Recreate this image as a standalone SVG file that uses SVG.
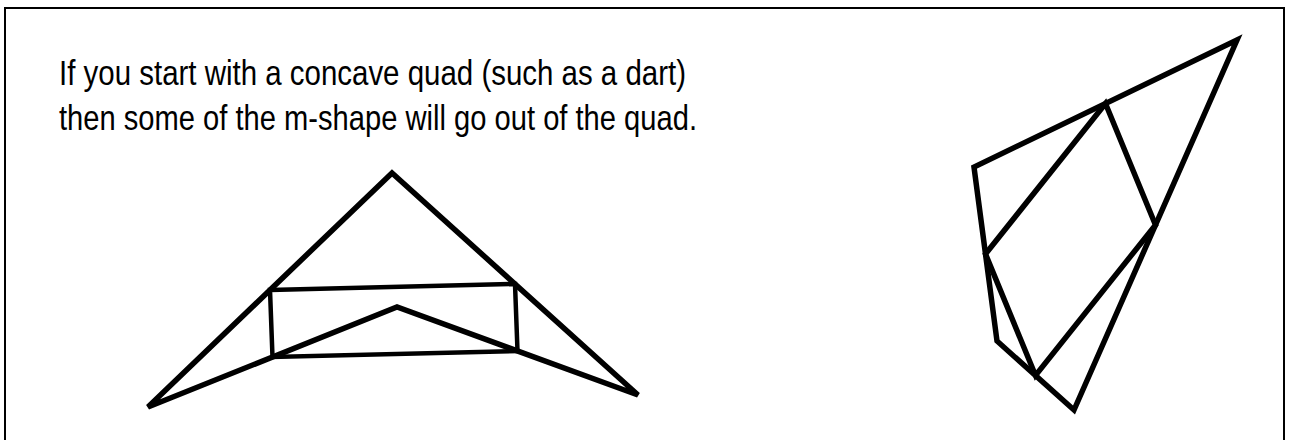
<svg xmlns="http://www.w3.org/2000/svg" width="1291" height="440" viewBox="0 0 1291 440">
<style>
.t{font-family:"Liberation Sans","DejaVu Sans",sans-serif;font-size:35px;fill:#000}
.s{fill:none;stroke:#000;stroke-width:5.5;stroke-linejoin:miter;stroke-linecap:butt}
.m{fill:none;stroke:#000;stroke-width:4.5;stroke-linejoin:miter}
</style>
<rect width="1291" height="440" fill="#fff"/>
<rect x="5" y="8" width="1279" height="450" fill="none" stroke="#000" stroke-width="2"/>
<g id="caption">
<text class="t" x="59" y="85" textLength="627" lengthAdjust="spacingAndGlyphs">If you start with a concave quad (such as a dart)</text>
<text class="t" x="59" y="130" textLength="638" lengthAdjust="spacingAndGlyphs">then some of the m-shape will go out of the quad.</text>
</g>
<g id="dart">
<polygon class="s" points="148,407 392,173 638,395 397,307"/>
<polygon class="m" points="270,290 515,284 517.5,351 272.5,357"/>
</g>
<g id="quad">
<polygon class="s" points="1237,40 974,167 997,341 1074,410"/>
<polygon class="s" points="1105.5,103.5 985.5,254 1035.5,375.5 1155.5,225"/>
</g>
</svg>
